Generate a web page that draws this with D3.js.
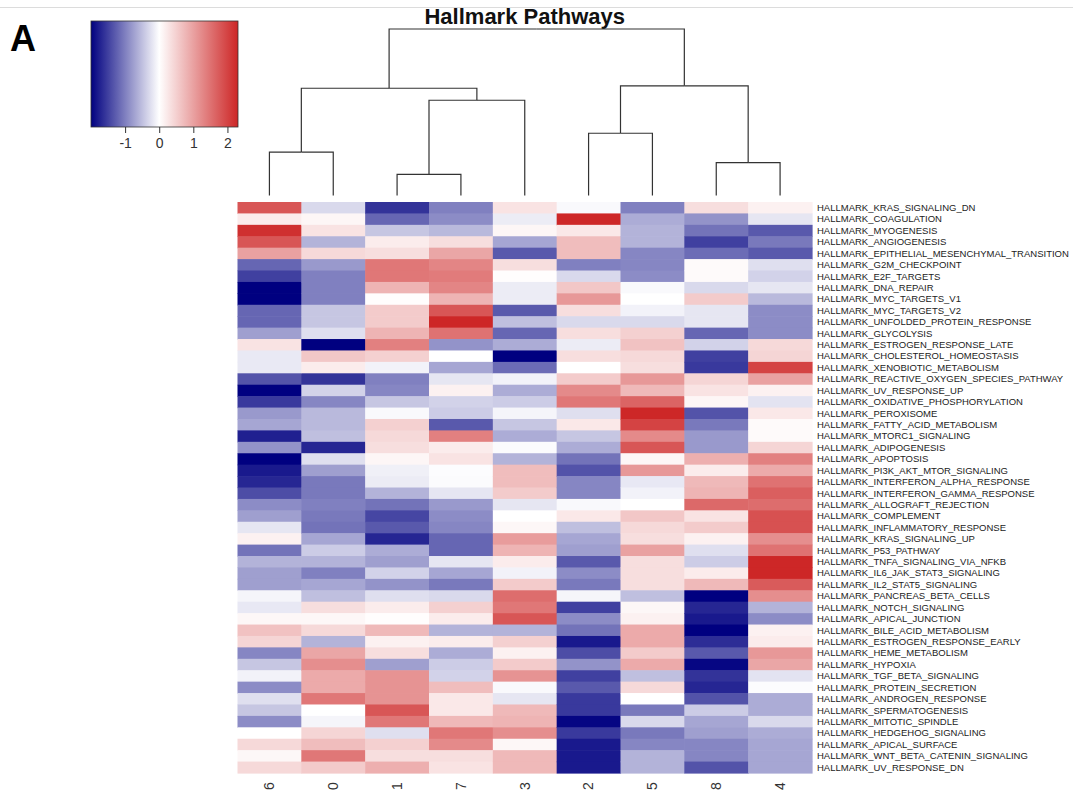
<!DOCTYPE html>
<html>
<head>
<meta charset="utf-8">
<script src="https://cdn.jsdelivr.net/npm/d3@7/dist/d3.min.js"></script>
<style>
  body { margin: 0; background: #fff; }
  svg { display: block; font-family: "Liberation Sans", Arial, sans-serif; }
</style>
</head>
<body>
<svg id="chart" width="1073" height="796"></svg>
<script>
'use strict';

// column order as the dendrogram leaves them
var clusters = ['6', '0', '1', '7', '3', '2', '5', '8', '4'];

var pathways = [
  'HALLMARK_KRAS_SIGNALING_DN', 'HALLMARK_COAGULATION', 'HALLMARK_MYOGENESIS', 'HALLMARK_ANGIOGENESIS',
  'HALLMARK_EPITHELIAL_MESENCHYMAL_TRANSITION', 'HALLMARK_G2M_CHECKPOINT', 'HALLMARK_E2F_TARGETS',
  'HALLMARK_DNA_REPAIR', 'HALLMARK_MYC_TARGETS_V1', 'HALLMARK_MYC_TARGETS_V2',
  'HALLMARK_UNFOLDED_PROTEIN_RESPONSE', 'HALLMARK_GLYCOLYSIS', 'HALLMARK_ESTROGEN_RESPONSE_LATE',
  'HALLMARK_CHOLESTEROL_HOMEOSTASIS', 'HALLMARK_XENOBIOTIC_METABOLISM',
  'HALLMARK_REACTIVE_OXYGEN_SPECIES_PATHWAY', 'HALLMARK_UV_RESPONSE_UP',
  'HALLMARK_OXIDATIVE_PHOSPHORYLATION', 'HALLMARK_PEROXISOME', 'HALLMARK_FATTY_ACID_METABOLISM',
  'HALLMARK_MTORC1_SIGNALING', 'HALLMARK_ADIPOGENESIS', 'HALLMARK_APOPTOSIS',
  'HALLMARK_PI3K_AKT_MTOR_SIGNALING', 'HALLMARK_INTERFERON_ALPHA_RESPONSE',
  'HALLMARK_INTERFERON_GAMMA_RESPONSE', 'HALLMARK_ALLOGRAFT_REJECTION', 'HALLMARK_COMPLEMENT',
  'HALLMARK_INFLAMMATORY_RESPONSE', 'HALLMARK_KRAS_SIGNALING_UP', 'HALLMARK_P53_PATHWAY',
  'HALLMARK_TNFA_SIGNALING_VIA_NFKB', 'HALLMARK_IL6_JAK_STAT3_SIGNALING',
  'HALLMARK_IL2_STAT5_SIGNALING', 'HALLMARK_PANCREAS_BETA_CELLS', 'HALLMARK_NOTCH_SIGNALING',
  'HALLMARK_APICAL_JUNCTION', 'HALLMARK_BILE_ACID_METABOLISM', 'HALLMARK_ESTROGEN_RESPONSE_EARLY',
  'HALLMARK_HEME_METABOLISM', 'HALLMARK_HYPOXIA', 'HALLMARK_TGF_BETA_SIGNALING',
  'HALLMARK_PROTEIN_SECRETION', 'HALLMARK_ANDROGEN_RESPONSE', 'HALLMARK_SPERMATOGENESIS',
  'HALLMARK_MITOTIC_SPINDLE', 'HALLMARK_HEDGEHOG_SIGNALING', 'HALLMARK_APICAL_SURFACE',
  'HALLMARK_WNT_BETA_CATENIN_SIGNALING', 'HALLMARK_UV_RESPONSE_DN'
];

// scaled scores per cluster, one value per pathway (same order as above)
var cluster6 = [1.8, 0.2, 2.2, 1.8, 1.0, -1.2, -1.5, -2.0, -2.0, -1.2,
  -1.2, -0.75, 0.3, -0.17, -0.17, -1.35, -2.0, -1.55, -0.8, -0.7,
  -1.75, -0.85, -2.0, -1.8, -1.7, -1.4, -0.9, -0.75, -0.2, 0.15,
  -1.1, -0.6, -0.75, -0.75, -0.08, -0.18, 0.08, 0.65, 0.45, -0.95,
  -0.45, -0.1, -0.9, -0.25, -0.45, -0.9, 0.0, 0.4, 0.08, 0.4];
var cluster0 = [-0.3, 0.1, 0.3, -0.6, 0.4, -0.8, -1.0, -1.0, -1.0, -0.45,
  -0.45, -0.25, -2.0, 0.6, 0.2, -1.6, -0.35, -0.95, -0.55, -0.55,
  -0.5, -1.7, -0.25, -0.75, -1.05, -1.05, -1.0, -1.05, -1.1, -0.7,
  -0.4, -0.6, -1.0, -0.7, -0.5, 0.35, 0.08, 0.4, -0.6, 0.95,
  1.2, 0.9, 0.9, 1.45, 0.0, -0.08, 0.45, 0.7, 1.45, 0.55];
var cluster1 = [-1.6, -1.2, -0.45, 0.2, 0.35, 1.45, 1.45, 0.8, 0.02, 0.55,
  0.55, 0.8, 1.35, 0.5, -0.1, -1.0, -0.95, -0.45, -0.05, 0.5,
  0.4, 0.35, 0.1, -0.12, -0.15, -0.6, -1.1, -1.45, -1.3, -1.7,
  -0.65, -0.75, -0.35, -0.85, -0.25, 0.2, 0.02, 0.75, 0.15, 0.35,
  -0.75, 1.15, 1.15, 1.15, 1.8, 1.45, -0.25, 0.5, 0.35, 0.85];
var cluster7 = [-1.0, -0.9, -0.55, 0.35, 0.95, 1.3, 1.4, 1.3, 0.8, 1.8,
  2.3, 1.5, -0.85, 0.0, -0.7, -0.2, 0.15, -0.35, -0.4, -1.3,
  1.35, 0.2, 0.3, -0.02, -0.03, -0.2, -0.8, -0.9, -0.95, -1.2,
  -1.2, -0.2, -0.7, -1.05, -0.3, 0.5, 0.2, -0.6, 0.2, -0.65,
  -0.4, -0.35, 0.7, 0.25, 0.25, 0.75, 1.45, 1.25, 0.35, 0.3];
var cluster3 = [0.3, -0.15, 0.1, -0.7, -1.3, 0.35, 0.02, -0.15, -0.15, -1.3,
  -0.5, -1.2, -0.65, -2.0, -1.15, -0.1, -0.65, -0.4, -0.08, -0.45,
  -0.65, -0.03, -0.6, 0.7, 0.7, 0.55, -0.2, 0.0, 0.08, 1.05,
  0.8, 0.2, -0.1, 0.55, 1.55, 1.45, 1.8, -0.6, 0.5, 0.15,
  0.55, 1.15, -0.05, -0.2, 0.75, 0.8, 1.2, 0.08, 0.75, 0.75];
var cluster2 = [-0.05, 2.3, 0.25, 0.7, 0.7, -1.0, -0.3, 0.6, 1.1, 0.35,
  -0.3, 0.35, -0.15, 0.35, 0.0, 0.55, 1.25, 1.45, -0.25, 0.25,
  -0.45, -0.65, -1.1, -1.35, -0.95, -0.95, -0.05, 0.25, -0.5, -0.7,
  -0.75, -1.3, -0.9, -1.05, -0.08, -1.5, -0.9, -1.1, -1.8, -1.4,
  -0.85, -1.5, -1.3, -1.55, -1.55, -1.95, -1.55, -1.8, -1.8, -1.8];
var cluster5 = [-1.0, -0.65, -0.6, -0.6, -0.95, -0.95, -0.9, -0.05, 0.0, -0.1,
  -0.3, 0.5, 0.65, 0.4, 0.35, 1.1, 0.75, 1.65, 2.3, 2.0,
  1.25, 1.8, 0.1, 1.1, -0.18, -0.1, 0.0, 0.6, 0.4, 0.35,
  1.0, 0.35, 0.35, 0.35, -0.5, 0.08, 0.15, 0.9, 0.9, 0.55,
  0.9, -0.5, 0.4, 0.0, -1.05, -0.3, -1.05, -0.95, -0.6, -0.6];
var cluster8 = [0.35, -0.85, -1.1, -1.5, -1.15, 0.05, 0.05, -0.3, 0.55, -0.2,
  -0.2, -1.2, -0.35, -1.5, -1.55, 0.45, 0.3, 0.1, -1.35, -1.05,
  -0.8, -0.8, 0.85, 0.2, 0.75, 0.8, 1.6, 0.3, 0.55, 0.15,
  -0.25, -0.4, 0.2, 0.75, -2.0, -1.7, -1.8, -2.0, -1.65, -1.3,
  -1.95, -1.6, -1.7, -1.35, -0.4, -0.7, -0.75, -0.95, -0.95, -1.35];
var cluster4 = [0.15, -0.2, -1.3, -1.05, -1.3, -0.25, -0.35, -0.2, -0.55, -0.9,
  -0.9, -0.9, 0.4, 0.45, 2.0, 1.0, 0.15, -0.22, 0.25, 0.05,
  0.05, 0.45, 1.35, 0.9, 1.5, 1.7, 1.55, 1.85, 1.85, 1.2,
  1.5, 2.3, 2.3, 1.75, 1.2, -0.6, -0.9, 0.15, 0.2, 1.1,
  0.95, -0.22, -0.02, -0.65, -0.65, -0.3, -0.65, -0.7, -0.7, -0.7];

// column dendrogram: leaves are cluster ids, h = merge height
var colTree = { h: 10, kids: [
  { h: 6.44, kids: [
    { h: 2.61, kids: ['6', '0'] },
    { h: 5.72, kids: [{ h: 1.27, kids: ['1', '7'] }, '3'] }
  ] },
  { h: 6.59, kids: [
    { h: 3.74, kids: ['2', '5'] },
    { h: 1.97, kids: ['8', '4'] }
  ] }
] };

var keyStops = [-2, 0, 2.31];
var keyColors = ['#000080', '#ffffff', '#cd2626'];
var keyTicks = [-1, 0, 1, 2];

var byCluster = {
  '6': cluster6, '0': cluster0, '1': cluster1, '7': cluster7, '3': cluster3,
  '2': cluster2, '5': cluster5, '8': cluster8, '4': cluster4
};

var cells = [];
clusters.forEach(function (c) {
  byCluster[c].forEach(function (v, i) {
    cells.push({ cluster: c, pathway: pathways[i], value: v });
  });
});

var svg = d3.select('#chart');

var x = d3.scaleBand().domain(clusters).range([237.5, 812]);
var y = d3.scaleBand().domain(pathways).range([202, 773]);

var color = d3.scaleLinear()
  .domain(keyStops)
  .range(keyColors)
  .interpolate(d3.interpolateRgb)
  .clamp(true);

// faint rule at the very top of the figure
svg.append('line')
  .attr('x1', 0).attr('x2', 1073)
  .attr('y1', 7.5).attr('y2', 7.5)
  .style('stroke', '#dcdcdc');

svg.append('text')
  .attr('x', 10).attr('y', 51)
  .style('font-size', '36px')
  .style('font-weight', 'bold')
  .text('A');

svg.append('text')
  .attr('x', (x.range()[0] + x.range()[1]) / 2)
  .attr('y', 23.5)
  .attr('text-anchor', 'middle')
  .style('font-size', '22px')
  .style('font-weight', 'bold')
  .style('fill', '#111')
  .text('Hallmark Pathways');

// heatmap cells
svg.append('g')
  .selectAll('rect')
  .data(cells)
  .enter()
  .append('rect')
  .attr('x', function (d) { return x(d.cluster); })
  .attr('y', function (d) { return y(d.pathway); })
  .attr('width', x.bandwidth() + 0.6)
  .attr('height', y.bandwidth() + 0.6)
  .style('fill', function (d) { return color(d.value); });

// row labels
svg.append('g')
  .selectAll('text')
  .data(pathways)
  .enter()
  .append('text')
  .attr('x', x.range()[1] + 5)
  .attr('y', function (d) { return y(d) + y.bandwidth() / 2; })
  .attr('dy', '0.35em')
  .style('font-size', '9.5px')
  .style('fill', '#222')
  .text(function (d) { return d; });

// column labels, turned on their side
svg.append('g')
  .selectAll('text')
  .data(clusters)
  .enter()
  .append('text')
  .attr('transform', function (d) {
    return 'translate(' + (x(d) + x.bandwidth() / 2) + ',786) rotate(-90)';
  })
  .attr('text-anchor', 'middle')
  .attr('dy', '0.35em')
  .style('font-size', '14px')
  .style('fill', '#333')
  .text(function (d) { return d; });

// dendrogram
var root = d3.hierarchy(colTree, function (d) { return typeof d === 'string' ? null : d.kids; });
var hy = d3.scaleLinear().domain([0, 10]).range([195.5, 29]);

root.eachAfter(function (n) {
  if (!n.children) {
    n.px = x(n.data) + x.bandwidth() / 2;
    n.py = hy(0);
  } else {
    n.px = d3.mean(n.children, function (c) { return c.px; });
    n.py = hy(n.data.h);
  }
});

var links = [];
root.each(function (n) {
  if (n.children) {
    n.children.forEach(function (c) { links.push({ source: n, target: c }); });
  }
});

svg.append('g')
  .selectAll('path')
  .data(links)
  .enter()
  .append('path')
  .attr('d', function (d) {
    return 'M' + d.source.px + ',' + d.source.py +
      'H' + d.target.px + 'V' + d.target.py;
  })
  .style('fill', 'none')
  .style('stroke', '#333')
  .style('stroke-width', 1.2);

// colour key
var kx = d3.scaleLinear().domain([keyStops[0], keyStops[2]]).range([91, 238]);
var keyTop = 21, keyBottom = 127;

var grad = svg.append('defs').append('linearGradient')
  .attr('id', 'keygrad')
  .attr('x1', '0%').attr('x2', '100%');
grad.selectAll('stop')
  .data(keyStops)
  .enter()
  .append('stop')
  .attr('offset', function (d) { return (kx(d) - kx.range()[0]) / (kx.range()[1] - kx.range()[0]); })
  .attr('stop-color', function (d) { return color(d); });

svg.append('rect')
  .attr('x', kx.range()[0])
  .attr('y', keyTop)
  .attr('width', kx.range()[1] - kx.range()[0])
  .attr('height', keyBottom - keyTop)
  .style('fill', 'url(#keygrad)')
  .style('stroke', '#333')
  .style('stroke-width', 0.8);

var keyAxis = svg.append('g')
  .attr('transform', 'translate(0,' + keyBottom + ')')
  .call(d3.axisBottom(kx).tickValues(keyTicks).tickSize(6).tickPadding(5).tickFormat(String));
keyAxis.select('.domain').remove();
keyAxis.selectAll('line').style('stroke', '#333');
keyAxis.selectAll('text')
  .style('font-size', '14px')
  .style('font-family', '"Liberation Sans", Arial, sans-serif')
  .style('fill', '#333');
</script>
</body>
</html>
